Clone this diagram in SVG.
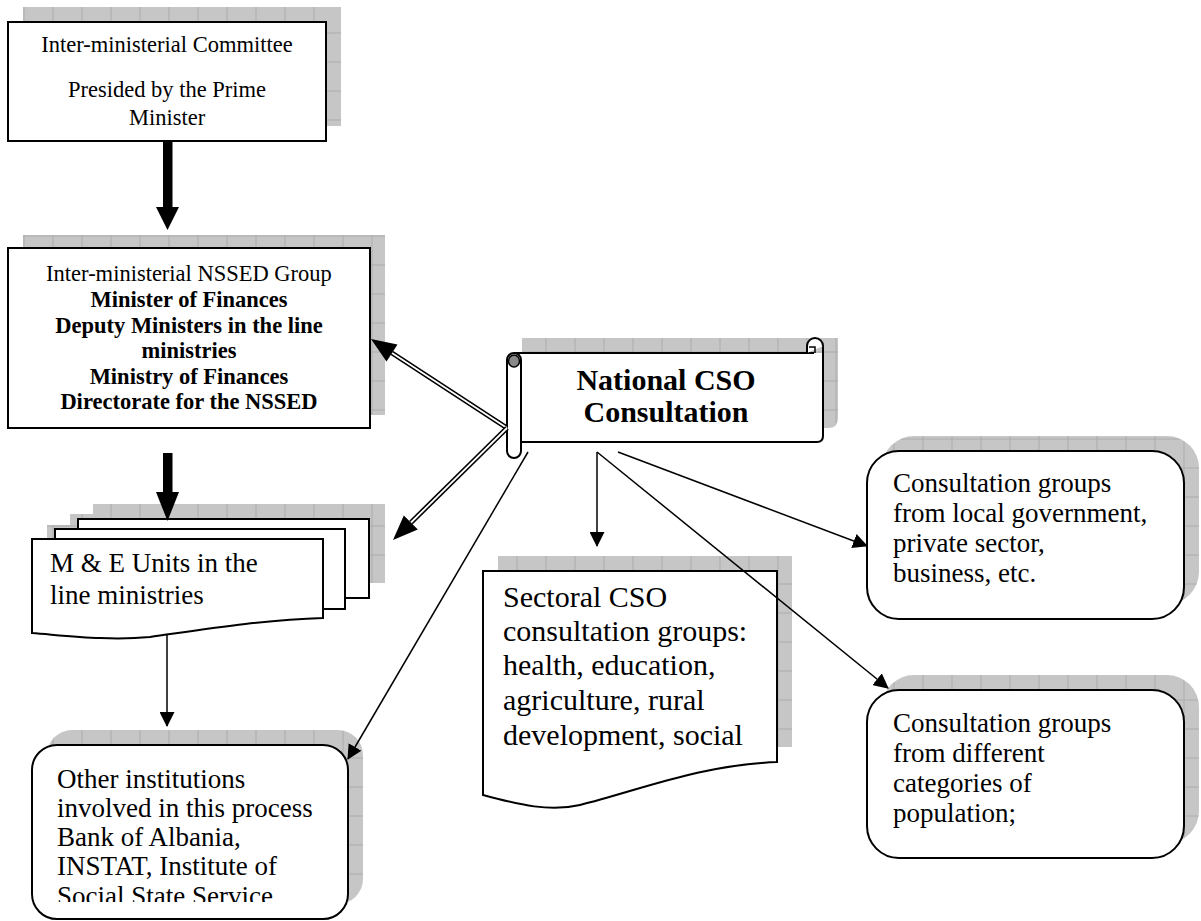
<svg xmlns="http://www.w3.org/2000/svg" width="1201" height="921" viewBox="0 0 1201 921">
<style>
.sh{fill:url(#grid);stroke:none}
.bx{fill:#fff;stroke:#000;stroke-width:2}
.t{font-family:"Liberation Serif","Times New Roman",serif;fill:#000}
.s10{font-size:22.5px}
.s12{font-size:27px}
.s13{font-size:30px}
.b{font-weight:bold}
.thin{stroke:#000;stroke-width:1.5;fill:none}
</style>
<defs>
<pattern id="grid" patternUnits="userSpaceOnUse" x="23.5" y="3.5" width="29" height="29">
<rect width="29" height="29" fill="#c6c6c6"/>
<path d="M0 0.5H29M0.5 0V29" stroke="#acacac" stroke-width="1"/>
</pattern>
<marker id="ah" markerUnits="userSpaceOnUse" markerWidth="15" markerHeight="15" refX="14" refY="7.5" orient="auto">
<path d="M0,0 L15,7.5 L0,15 z" fill="#000"/>
</marker>
<clipPath id="clipOther"><rect x="0" y="740" width="400" height="162"/></clipPath>
</defs>

<g id="committee">
<rect class="sh" x="23" y="7" width="318" height="119"/>
<rect class="bx" x="8" y="22" width="318" height="119"/>
<text class="t s10" x="167" y="52" text-anchor="middle">Inter-ministerial Committee</text>
<text class="t s10" x="167" y="97" text-anchor="middle">Presided by the Prime</text>
<text class="t s10" x="167" y="125" text-anchor="middle">Minister</text>
</g>

<g id="nssed-group">
<rect class="sh" x="23" y="235" width="362" height="180"/>
<rect class="bx" x="8" y="248" width="362" height="180"/>
<text class="t s10" x="189" y="281" text-anchor="middle">Inter-ministerial NSSED Group</text>
<text class="t s10 b" x="189" y="307" text-anchor="middle">Minister of Finances</text>
<text class="t s10 b" x="189" y="332.5" text-anchor="middle">Deputy Ministers in the line</text>
<text class="t s10 b" x="189" y="358" text-anchor="middle">ministries</text>
<text class="t s10 b" x="189" y="384" text-anchor="middle">Ministry of Finances</text>
<text class="t s10 b" x="189" y="409" text-anchor="middle">Directorate for the NSSED</text>
</g>

<g id="me-units">
<rect class="sh" x="93" y="504" width="292" height="79"/>
<rect class="sh" x="70" y="514" width="280" height="80"/>
<rect class="sh" x="47" y="525" width="270" height="90"/>
<rect class="bx" x="78" y="519" width="291" height="79"/>
<rect class="bx" x="55" y="529" width="290" height="80"/>
<path class="bx" d="M32 539 H323 V618 C260 620 200 630 150 637 C110 641 70 636 32 633 Z"/>
<text class="t s12" x="50" y="572">M &amp; E Units in the</text>
<text class="t s12" x="50" y="604">line ministries</text>
</g>

<g id="other-institutions">
<rect class="sh" x="47" y="730" width="316" height="174" rx="25"/>
<rect class="bx" x="32" y="745" width="316" height="174" rx="25"/>
<g clip-path="url(#clipOther)">
<text class="t s12" x="57" y="788">Other institutions</text>
<text class="t s12" x="57" y="817">involved in this process</text>
<text class="t s12" x="57" y="846">Bank of Albania,</text>
<text class="t s12" x="57" y="875">INSTAT, Institute of</text>
<text class="t s12" x="57" y="905">Social State Service</text>
</g>
</g>

<g id="national-cso">
<path class="sh" d="M522 338 H838 V418 Q838 428 828 428 H522 Z"/>
<rect x="514" y="353" width="309" height="89" fill="#fff"/>
<path d="M514 353 H814 M823 346 V436 Q823 442 817 442 H521" fill="none" stroke="#000" stroke-width="2"/>
<path d="M807 353 V346 A8 8 0 1 1 823 346" fill="#fff" stroke="#000" stroke-width="2"/>
<path d="M815 353 V347 H809" fill="none" stroke="#000" stroke-width="1.5"/>
<rect class="bx" x="507" y="353" width="14" height="105" rx="7"/>
<ellipse cx="514" cy="361" rx="5.5" ry="6" fill="#888" stroke="#000" stroke-width="1.5"/>
<text class="t s13 b" x="666" y="390" text-anchor="middle">National CSO</text>
<text class="t s13 b" x="666" y="422" text-anchor="middle">Consultation</text>
</g>

<g id="sectoral">
<rect class="sh" x="498" y="556" width="294" height="191"/>
<path class="bx" d="M483 571 H777 V762 C700 765 640 790 580 805 C550 812 520 805 483 795 Z"/>
<text class="t s13" x="503" y="607">Sectoral CSO</text>
<text class="t s13" x="503" y="641">consultation groups:</text>
<text class="t s13" x="503" y="675">health, education,</text>
<text class="t s13" x="503" y="710">agriculture, rural</text>
<text class="t s13" x="503" y="745">development, social</text>
</g>

<g id="local-groups">
<rect class="sh" x="882" y="436" width="317" height="168" rx="32"/>
<rect class="bx" x="867" y="451" width="317" height="168" rx="32"/>
<text class="t s12" x="893" y="492">Consultation groups</text>
<text class="t s12" x="893" y="522">from local government,</text>
<text class="t s12" x="893" y="552">private sector,</text>
<text class="t s12" x="893" y="582">business, etc.</text>
</g>

<g id="population-groups">
<rect class="sh" x="882" y="675" width="317" height="168" rx="32"/>
<rect class="bx" x="867" y="690" width="317" height="168" rx="32"/>
<text class="t s12" x="893" y="732">Consultation groups</text>
<text class="t s12" x="893" y="762">from different</text>
<text class="t s12" x="893" y="792">categories of</text>
<text class="t s12" x="893" y="822">population;</text>
</g>

<g id="connectors">
<rect x="163" y="141" width="9.5" height="67" fill="#000"/>
<path d="M156 207 H179 L167.5 230 Z" fill="#000"/>
<rect x="163" y="453" width="9.5" height="40" fill="#000"/>
<path d="M156 492 H179 L167.5 521 Z" fill="#000"/>
<line class="thin" x1="167" y1="634" x2="167" y2="726" marker-end="url(#ah)"/>
<line x1="507" y1="428" x2="392" y2="353" stroke="#000" stroke-width="5"/>
<line x1="507" y1="428" x2="392" y2="353" stroke="#fff" stroke-width="1.8"/>
<path d="M371 339 L397.5 344.6 L386.5 361.4 Z" fill="#000"/>
<line x1="507" y1="428" x2="411" y2="522.5" stroke="#000" stroke-width="5"/>
<line x1="507" y1="428" x2="411" y2="522.5" stroke="#fff" stroke-width="1.8"/>
<path d="M393 540 L417.8 529.6 L403.8 515.4 Z" fill="#000"/>
<line class="thin" x1="528" y1="452" x2="348" y2="759" marker-end="url(#ah)"/>
<line class="thin" x1="597" y1="452" x2="597" y2="546" marker-end="url(#ah)"/>
<line class="thin" x1="597" y1="452" x2="888" y2="688" marker-end="url(#ah)"/>
<line class="thin" x1="618" y1="452" x2="867" y2="546" marker-end="url(#ah)"/>
</g>
</svg>
